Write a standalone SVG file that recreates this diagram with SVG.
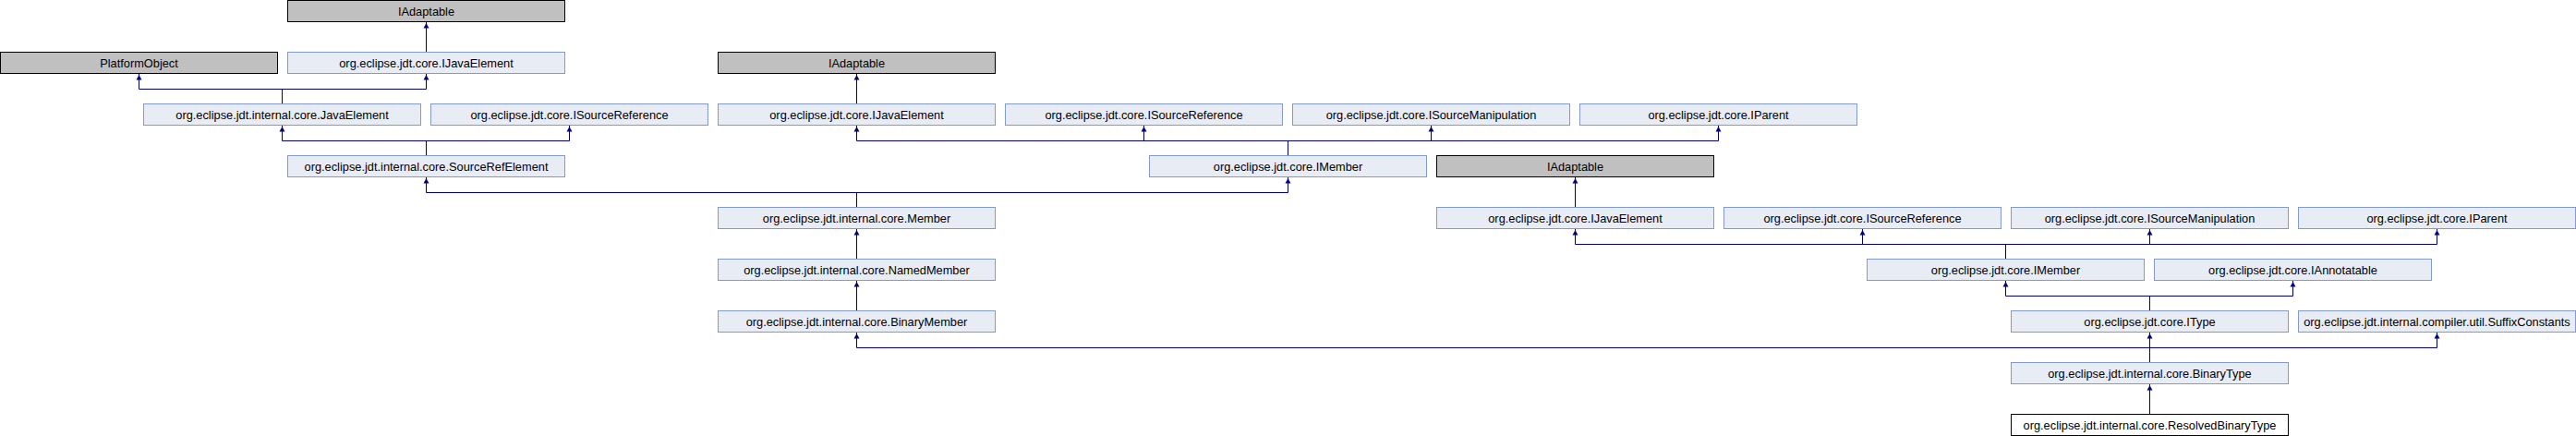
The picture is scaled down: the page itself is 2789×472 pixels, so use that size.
<svg xmlns="http://www.w3.org/2000/svg" xmlns:xlink="http://www.w3.org/1999/xlink" width="2789" height="472" viewBox="0 0 2789 472">
<style>
.box rect{fill:#E8ECF5;stroke:#8299CF;stroke-width:1}
.ext rect{fill:#C0C0C0;stroke:#000000;stroke-width:1}
.cur rect{fill:#FFFFFF;stroke:#000000;stroke-width:1}
text{font-family:"Liberation Sans",Arial,sans-serif;font-size:12.8px;fill:#000000;text-anchor:middle}
#connectors path{fill:none;stroke:#000080;stroke-width:1}
#connectors use{fill:#000080}
</style>
<defs>
<path id="ah" d="M0,0 L3,5.5 L-3,5.5 Z"/>
</defs>
<rect x="0" y="0" width="2789" height="472" fill="#FFFFFF"/>
<g id="connectors">
<path d="M461.5,56 V24"/>
<path d="M927.5,112 V80"/>
<path d="M1705.5,224 V192"/>
<path d="M927.5,280 V248"/>
<path d="M927.5,336 V304"/>
<path d="M2327.5,448 V416"/>
<path d="M305.5,112 V96.5 M150.5,80 V96.5 H461.5 V80"/>
<path d="M461.5,168 V152.5 M305.5,136 V152.5 H616.5 V136"/>
<path d="M1394.5,168 V152.5 M927.5,136 V152.5 H1860.5 V136 M1238.5,136 V152.5 M1549.5,136 V152.5"/>
<path d="M927.5,224 V208.5 M461.5,192 V208.5 H1394.5 V192"/>
<path d="M2171.5,280 V264.5 M1705.5,248 V264.5 H2638.5 V248 M2016.5,248 V264.5 M2327.5,248 V264.5"/>
<path d="M2327.5,336 V320.5 M2171.5,304 V320.5 H2482.5 V304"/>
<path d="M2327.5,392 V376.5 M927.5,360 V376.5 H2638.5 V360 M2327.5,360 V376.5"/>
<use xlink:href="#ah" x="461.5" y="25"/>
<use xlink:href="#ah" x="150.5" y="81"/>
<use xlink:href="#ah" x="461.5" y="81"/>
<use xlink:href="#ah" x="927.5" y="81"/>
<use xlink:href="#ah" x="305.5" y="137"/>
<use xlink:href="#ah" x="616.5" y="137"/>
<use xlink:href="#ah" x="927.5" y="137"/>
<use xlink:href="#ah" x="1238.5" y="137"/>
<use xlink:href="#ah" x="1549.5" y="137"/>
<use xlink:href="#ah" x="1860.5" y="137"/>
<use xlink:href="#ah" x="461.5" y="193"/>
<use xlink:href="#ah" x="1394.5" y="193"/>
<use xlink:href="#ah" x="1705.5" y="193"/>
<use xlink:href="#ah" x="927.5" y="249"/>
<use xlink:href="#ah" x="1705.5" y="249"/>
<use xlink:href="#ah" x="2016.5" y="249"/>
<use xlink:href="#ah" x="2327.5" y="249"/>
<use xlink:href="#ah" x="2638.5" y="249"/>
<use xlink:href="#ah" x="927.5" y="305"/>
<use xlink:href="#ah" x="2171.5" y="305"/>
<use xlink:href="#ah" x="2482.5" y="305"/>
<use xlink:href="#ah" x="927.5" y="361"/>
<use xlink:href="#ah" x="2327.5" y="361"/>
<use xlink:href="#ah" x="2638.5" y="361"/>
<use xlink:href="#ah" x="2327.5" y="417"/>
</g>
<g id="n_IAdaptable_1" class="ext"><rect x="311.5" y="0.5" width="300" height="23"/><text x="461.5" y="16.5">IAdaptable</text></g>
<g id="n_PlatformObject" class="ext"><rect x="0.5" y="56.5" width="300" height="23"/><text x="150.5" y="72.5">PlatformObject</text></g>
<g id="n_IJavaElement_1" class="box"><rect x="311.5" y="56.5" width="300" height="23"/><text x="461.5" y="72.5">org.eclipse.jdt.core.IJavaElement</text></g>
<g id="n_IAdaptable_2" class="ext"><rect x="777.5" y="56.5" width="300" height="23"/><text x="927.5" y="72.5">IAdaptable</text></g>
<g id="n_JavaElement" class="box"><rect x="155.5" y="112.5" width="300" height="23"/><text x="305.5" y="128.5">org.eclipse.jdt.internal.core.JavaElement</text></g>
<g id="n_ISourceReference_1" class="box"><rect x="466.5" y="112.5" width="300" height="23"/><text x="616.5" y="128.5">org.eclipse.jdt.core.ISourceReference</text></g>
<g id="n_IJavaElement_2" class="box"><rect x="777.5" y="112.5" width="300" height="23"/><text x="927.5" y="128.5">org.eclipse.jdt.core.IJavaElement</text></g>
<g id="n_ISourceReference_2" class="box"><rect x="1088.5" y="112.5" width="300" height="23"/><text x="1238.5" y="128.5">org.eclipse.jdt.core.ISourceReference</text></g>
<g id="n_ISourceManipulation_1" class="box"><rect x="1399.5" y="112.5" width="300" height="23"/><text x="1549.5" y="128.5">org.eclipse.jdt.core.ISourceManipulation</text></g>
<g id="n_IParent_1" class="box"><rect x="1710.5" y="112.5" width="300" height="23"/><text x="1860.5" y="128.5">org.eclipse.jdt.core.IParent</text></g>
<g id="n_SourceRefElement" class="box"><rect x="311.5" y="168.5" width="300" height="23"/><text x="461.5" y="184.5">org.eclipse.jdt.internal.core.SourceRefElement</text></g>
<g id="n_IMember_1" class="box"><rect x="1244.5" y="168.5" width="300" height="23"/><text x="1394.5" y="184.5">org.eclipse.jdt.core.IMember</text></g>
<g id="n_IAdaptable_3" class="ext"><rect x="1555.5" y="168.5" width="300" height="23"/><text x="1705.5" y="184.5">IAdaptable</text></g>
<g id="n_Member" class="box"><rect x="777.5" y="224.5" width="300" height="23"/><text x="927.5" y="240.5">org.eclipse.jdt.internal.core.Member</text></g>
<g id="n_IJavaElement_3" class="box"><rect x="1555.5" y="224.5" width="300" height="23"/><text x="1705.5" y="240.5">org.eclipse.jdt.core.IJavaElement</text></g>
<g id="n_ISourceReference_3" class="box"><rect x="1866.5" y="224.5" width="300" height="23"/><text x="2016.5" y="240.5">org.eclipse.jdt.core.ISourceReference</text></g>
<g id="n_ISourceManipulation_2" class="box"><rect x="2177.5" y="224.5" width="300" height="23"/><text x="2327.5" y="240.5">org.eclipse.jdt.core.ISourceManipulation</text></g>
<g id="n_IParent_2" class="box"><rect x="2488.5" y="224.5" width="300" height="23"/><text x="2638.5" y="240.5">org.eclipse.jdt.core.IParent</text></g>
<g id="n_NamedMember" class="box"><rect x="777.5" y="280.5" width="300" height="23"/><text x="927.5" y="296.5">org.eclipse.jdt.internal.core.NamedMember</text></g>
<g id="n_IMember_2" class="box"><rect x="2021.5" y="280.5" width="300" height="23"/><text x="2171.5" y="296.5">org.eclipse.jdt.core.IMember</text></g>
<g id="n_IAnnotatable" class="box"><rect x="2332.5" y="280.5" width="300" height="23"/><text x="2482.5" y="296.5">org.eclipse.jdt.core.IAnnotatable</text></g>
<g id="n_BinaryMember" class="box"><rect x="777.5" y="336.5" width="300" height="23"/><text x="927.5" y="352.5">org.eclipse.jdt.internal.core.BinaryMember</text></g>
<g id="n_IType" class="box"><rect x="2177.5" y="336.5" width="300" height="23"/><text x="2327.5" y="352.5">org.eclipse.jdt.core.IType</text></g>
<g id="n_SuffixConstants" class="box"><rect x="2488.5" y="336.5" width="300" height="23"/><text x="2638.5" y="352.5">org.eclipse.jdt.internal.compiler.util.SuffixConstants</text></g>
<g id="n_BinaryType" class="box"><rect x="2177.5" y="392.5" width="300" height="23"/><text x="2327.5" y="408.5">org.eclipse.jdt.internal.core.BinaryType</text></g>
<g id="n_ResolvedBinaryType" class="cur"><rect x="2177.5" y="448.5" width="300" height="23"/><text x="2327.5" y="464.5">org.eclipse.jdt.internal.core.ResolvedBinaryType</text></g>
</svg>
